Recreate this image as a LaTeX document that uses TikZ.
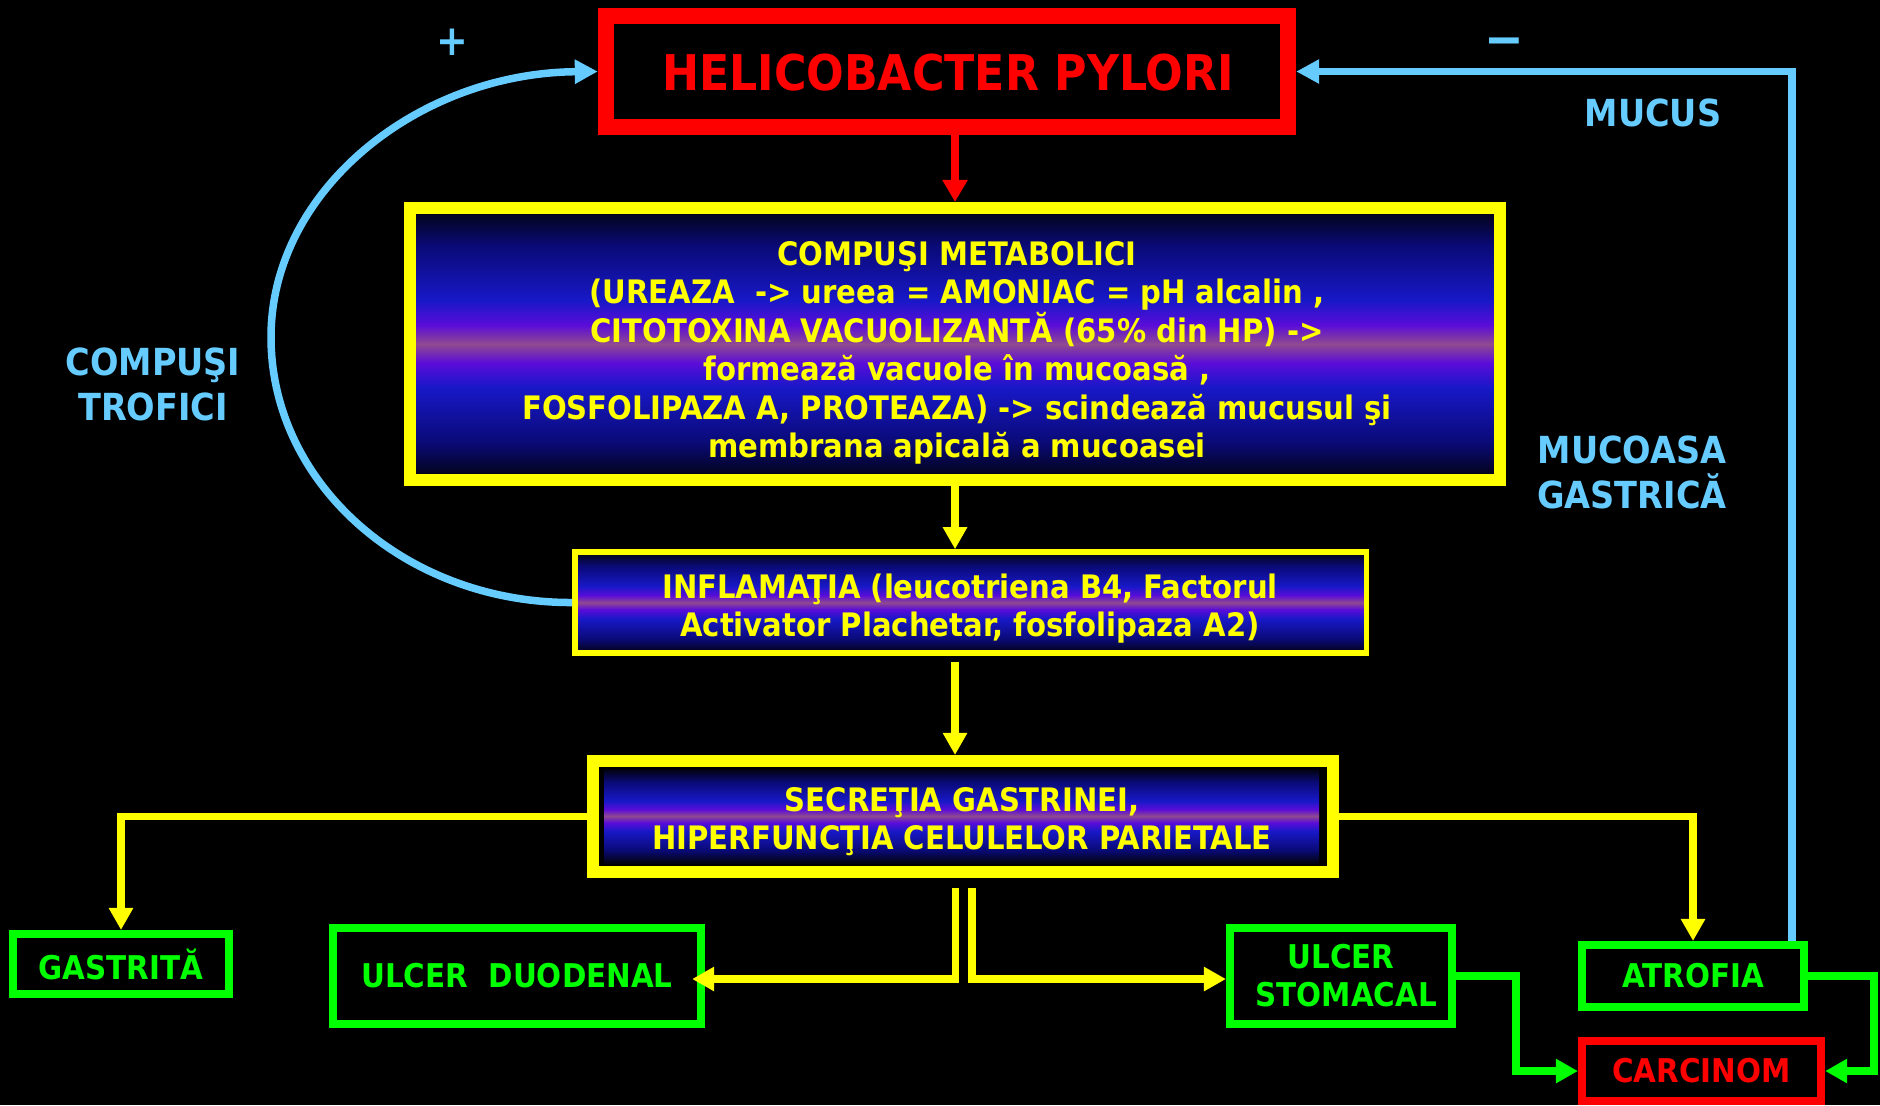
\documentclass[tikz,border=0pt]{standalone}
\usepackage{fontspec}
\setmainfont{DejaVu Sans Condensed Bold}
\usetikzlibrary{arrows.meta}
\definecolor{hpred}{HTML}{FF0000}
\definecolor{hpyel}{HTML}{FFFF00}
\definecolor{hpgreen}{HTML}{00FF00}
\definecolor{hpblue}{HTML}{66CCFF}
\definecolor{gnavy}{HTML}{0A0A78}
\definecolor{gblue}{HTML}{1818C8}
\definecolor{gviol}{HTML}{5A0CD8}
\definecolor{gmauve}{HTML}{904A90}
\definecolor{gblack}{HTML}{02020E}
\pgfdeclareverticalshading{hpgrad}{100bp}{color(0bp)=(gblack); color(25bp)=(gblack); color(32bp)=(gnavy); color(42bp)=(gblue); color(46.5bp)=(gviol); color(50bp)=(gmauve); color(53.5bp)=(gviol); color(58bp)=(gblue); color(68bp)=(gnavy); color(75bp)=(gblack); color(100bp)=(gblack)}
\begin{document}
\begin{tikzpicture}[x=0.01cm,y=-0.01cm,
  every node/.style={inner sep=0pt},
  boxtxt/.style={text=hpyel, font=\fontsize{9.2}{10.95}\selectfont, align=center},
  gbox/.style={draw=hpgreen, line width=0.08cm, text=hpgreen, font=\fontsize{9.3}{10.8}\selectfont, align=center},
  lbl/.style={text=hpblue, font=\fontsize{10.6}{12.8}\selectfont, align=center},
  yarr/.style={draw=hpyel, line width=0.075cm, -{Triangle[length=0.22cm,width=0.23cm]}},
  rarr/.style={draw=hpred, line width=0.08cm, -{Triangle[length=0.22cm,width=0.24cm]}},
  garr/.style={draw=hpgreen, line width=0.075cm, -{Triangle[length=0.22cm,width=0.23cm]}},
  barr/.style={draw=hpblue, line width=0.075cm, -{Triangle[length=0.23cm,width=0.23cm]}}]
\fill[black] (0,0) rectangle (1880,1105);
\useasboundingbox (0,0) rectangle (1880,1105);

% boxes
\node[draw=hpred, line width=0.16cm, minimum width=6.82cm, minimum height=1.11cm] (hp) at (947,71.5) {};
\node[text=hpred, font=\fontsize{14}{16}\selectfont] (hpt) at (948,73) {HELICOBACTER PYLORI};

\node[draw=hpyel, line width=0.12cm, shade, shading=hpgrad, minimum width=10.9cm, minimum height=2.72cm] (comp) at (955,344) {};
\node[boxtxt] (compt) at (957,353)
 {COMPUŞI METABOLICI\\
  (UREAZA\ \ -> ureea = AMONIAC = pH alcalin ,\\
  CITOTOXINA VACUOLIZANTĂ (65\% din HP) ->\\
  formează vacuole în mucoasă ,\\
  FOSFOLIPAZA A, PROTEAZA) -> scindează mucusul şi\\
  membrana apicală a mucoasei};

\node[draw=hpyel, line width=0.055cm, shade, shading=hpgrad, minimum width=7.91cm, minimum height=1.01cm] (infl) at (970.5,602.5) {};
\node[boxtxt] (inflt) at (970,608.5)
 {INFLAMAŢIA (leucotriena B4, Factorul\\ Activator Plachetar, fosfolipaza A2)};

\shade[shading=hpgrad] (604,769) rectangle (1319,863);
\node[draw=hpyel, line width=0.12cm, minimum width=7.4cm, minimum height=1.11cm] (sec) at (963,816.5) {};
\node[boxtxt] (sect) at (962,821.5)
 {SECREŢIA GASTRINEI,\\ HIPERFUNCŢIA CELULELOR PARIETALE};

\node[gbox, minimum width=2.16cm, minimum height=0.60cm] (gas) at (121,964) {GASTRITĂ};
\node[gbox, minimum width=3.68cm, minimum height=0.96cm] (ud) at (517,976) {ULCER\ \ DUODENAL};
\node[gbox, minimum width=2.22cm, minimum height=0.96cm] (us) at (1341,976) {ULCER\\ \ STOMACAL};
\node[gbox, minimum width=2.22cm, minimum height=0.62cm] (atr) at (1693,976) {ATROFIA};
\node[gbox, draw=hpred, text=hpred, minimum width=2.39cm, minimum height=0.60cm] (carc) at (1701.5,1071) {CARCINOM};

% labels
\node[lbl, font=\fontsize{12}{14}\selectfont] (plus) at (452,42) {+};
\node[lbl, font=\fontsize{15}{17}\selectfont, anchor=base] (minus) at (1504,57) {−};
\node[lbl] (mucus) at (1653,113) {MUCUS};
\node[lbl] (mucoasa) at (1632,472) {MUCOASA\\GASTRICĂ};
\node[lbl] (trofici) at (153,384) {COMPUŞI\\TROFICI};

% connectors
\draw[rarr] (hp.south -| comp.north) -- (comp.north);
\draw[yarr] (comp.south) -- (comp.south |- infl.north);
\draw[yarr, shorten <=0.06cm] (comp.south |- infl.south) -- (comp.south |- sec.north);
\draw[yarr] (sec.west) -| (gas.north);
\draw[yarr] (sec.east) -| (atr.north);
\coordinate (dl) at (955.5,888);
\coordinate (dr) at (972,888);
\draw[yarr] (dl) |- ([xshift=-0.13cm,yshift=-0.03cm]ud.east);
\draw[yarr] (dr) |- ([yshift=-0.03cm]us.west);
\coordinate (g1) at (1516,976);
\coordinate (g2) at (1874,976);
\draw[garr] (us.east) -- (g1) |- (carc.west);
\draw[garr] (atr.east) -- (g2) |- (carc.east);
\coordinate (b0) at (1792,0);
\draw[barr] (atr.north -| b0) |- (hp.east);
\draw[barr] (infl.west) .. controls (406,603) and (271,484) .. (271,337)
  .. controls (271,191) and (417,73) .. (hp.west);
\end{tikzpicture}
\end{document}
